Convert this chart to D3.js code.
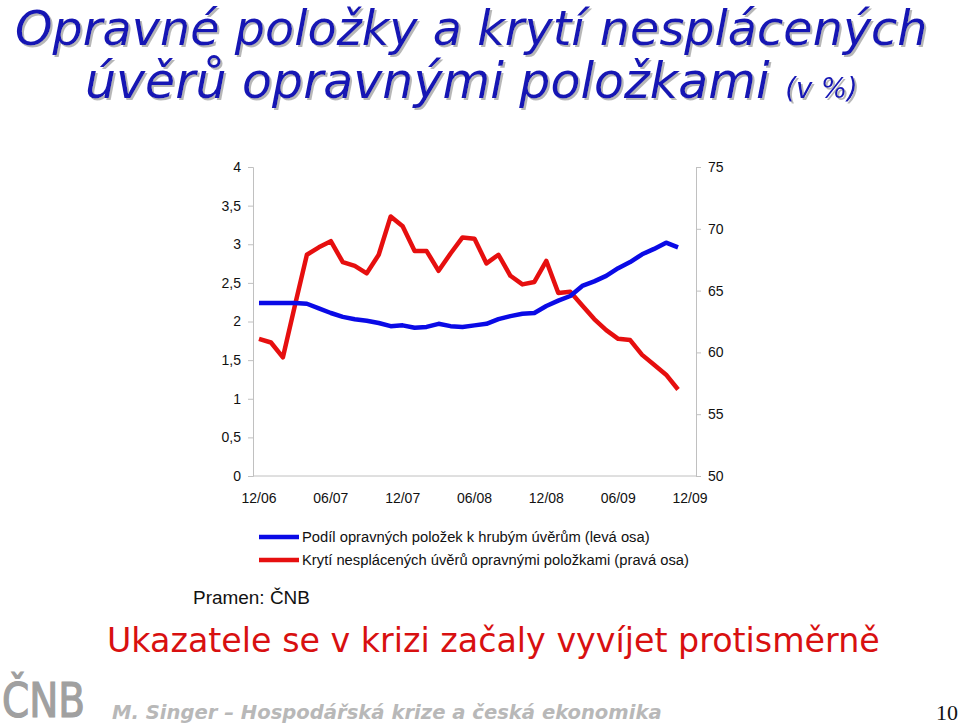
<!DOCTYPE html>
<html><head><meta charset="utf-8">
<script src="https://cdn.jsdelivr.net/npm/d3@7"></script>
<style>html,body{margin:0;padding:0;background:#fff;} svg{display:block;}</style>
</head><body>
<svg id="c" width="960" height="724"></svg>
<script>
// ---- data ----
const months = ["12/06","01/07","02/07","03/07","04/07","05/07","06/07","07/07","08/07","09/07","10/07","11/07",
  "12/07","01/08","02/08","03/08","04/08","05/08","06/08","07/08","08/08","09/08","10/08","11/08",
  "12/08","01/09","02/09","03/09","04/09","05/09","06/09","07/09","08/09","09/09","10/09","11/09","12/09"];
const tickLabels = ["12/06","06/07","12/07","06/08","12/08","06/09","12/09"];
const leftTicks = [0,0.5,1,1.5,2,2.5,3,3.5,4];
const rightTicks = [50,55,60,65,70,75];
// Podíl opravných položek k hrubým úvěrům (levá osa)
const podil = [2.24,2.24,2.24,2.24,2.23,2.17,2.11,2.06,2.03,2.01,1.98,1.94,
  1.95,1.92,1.93,1.97,1.94,1.93,1.95,1.97,2.03,2.07,2.10,2.11,
  2.20,2.27,2.33,2.46,2.52,2.59,2.69,2.77,2.87,2.94,3.02,2.96,null];
// Krytí nesplácených úvěrů opravnými položkami (pravá osa)
const kryti = [61.1,60.8,59.6,63.8,67.9,68.5,69.0,67.3,67.0,66.4,67.9,71.0,
  70.2,68.2,68.2,66.6,68.0,69.3,69.2,67.2,67.9,66.2,65.5,65.7,
  67.4,64.8,64.9,63.8,62.7,61.8,61.1,61.0,59.8,59.0,58.2,57.0,null];
const seriesNames = ["Podíl opravných položek k hrubým úvěrům (levá osa)",
  "Krytí nesplácených úvěrů opravnými položkami (pravá osa)"];

const svg = d3.select("#c");
const FONT = "'Liberation Sans', Arial, sans-serif";
const TFONT = "'DejaVu Sans', Verdana, sans-serif";

function fit(sel, w){
  const n = sel.node();
  const fs = parseFloat(sel.attr("font-size"));
  const cur = n.getComputedTextLength();
  sel.attr("font-size", fs*w/cur);
}

// shadow filter
const defs = svg.append("defs");
defs.append("filter").attr("id","sh").attr("x","-5%").attr("y","-20%").attr("width","110%").attr("height","140%")
  .append("feDropShadow").attr("dx",2).attr("dy",2).attr("stdDeviation",0.4)
  .attr("flood-color","#aaaaaa").attr("flood-opacity",0.85);

// ---- title ----
function titleLine(x,y,parts,w){
  const t = svg.append("text").attr("x",x).attr("y",y)
    .attr("font-family",TFONT).attr("font-style","italic")
    .attr("fill","#1414b4").attr("filter","url(#sh)");
  const sp = parts.map(p=>t.append("tspan").attr("font-size",p.fs).text(p.t));
  const cur = t.node().getComputedTextLength();
  sp.forEach((s,i)=>s.attr("font-size",parts[i].fs*w/cur));
}
titleLine(15,45,[{t:"Opravné položky a krytí nesplácených",fs:41}],913);
titleLine(85,98,[{t:"úvěrů opravnými položkami ",fs:41},{t:"(v %)",fs:23}],773);

// ---- scales ----
const x = d3.scaleBand().domain(months).range([253,696]).padding(0);
const cx = d => x(d) + x.bandwidth()/2;
const yL = d3.scaleLinear().domain([0,4]).range([476,167]);
const yR = d3.scaleLinear().domain([50,75]).range([476,167]);

const axisCol = "#c0c0c0";
const gL = svg.append("g").attr("transform","translate(253,0)")
  .call(d3.axisLeft(yL).tickValues(leftTicks).tickSize(5).tickPadding(7)
    .tickFormat(d=>String(d).replace(".",",")));
const gR = svg.append("g").attr("transform","translate(696,0)")
  .call(d3.axisRight(yR).tickValues(rightTicks).tickSize(5).tickPadding(7));
const gB = svg.append("g").attr("transform","translate(0,476)")
  .call(d3.axisBottom(x).tickValues(tickLabels).tickSize(0).tickPadding(17));
[gL,gR,gB].forEach(g=>{
  g.selectAll("path,line").attr("stroke",axisCol);
  g.selectAll("text").attr("font-family",FONT).attr("font-size",14).attr("fill","#111");
});
gB.select(".domain").attr("d","M253,0H696");

// ---- lines ----
const blue = "#0a0ae6", red = "#e60f0f";
const lineL = d3.line().defined(d=>d.v!=null).x(d=>cx(d.m)).y(d=>yL(d.v));
const lineR = d3.line().defined(d=>d.v!=null).x(d=>cx(d.m)).y(d=>yR(d.v));
svg.append("path").datum(months.map((m,i)=>({m,v:kryti[i]})))
  .attr("d",lineR).attr("fill","none").attr("stroke",red).attr("stroke-width",4.5).attr("stroke-linejoin","round");
svg.append("path").datum(months.map((m,i)=>({m,v:podil[i]})))
  .attr("d",lineL).attr("fill","none").attr("stroke",blue).attr("stroke-width",4.5).attr("stroke-linejoin","round");

// ---- legend ----
[[blue,537],[red,560]].forEach(([c,y],i)=>{
  svg.append("line").attr("x1",259).attr("x2",299).attr("y1",y).attr("y2",y)
    .attr("stroke",c).attr("stroke-width",4.5);
  const t = svg.append("text").attr("x",302).attr("y",y+5).attr("font-family",FONT)
    .attr("font-size",13).attr("fill","#111").text(seriesNames[i]);
  fit(t, i===0?348:387);
});
const pr = svg.append("text").attr("x",193).attr("y",604).attr("font-family",FONT)
  .attr("font-size",16).attr("fill","#111").text("Pramen: ČNB");
fit(pr,117);

// ---- subtitle ----
const st = svg.append("text").attr("x",107).attr("y",652)
  .attr("font-family",TFONT).attr("font-size",32)
  .attr("fill","#d81010").text("Ukazatele se v krizi začaly vyvíjet protisměrně");
fit(st,773);

// ---- footer ----
const logo = svg.append("text").attr("x",2).attr("y",717)
  .attr("font-family","'Liberation Sans Narrow','DejaVu Sans Condensed',sans-serif")
  .attr("font-size",48).attr("fill","#a0a0a0").attr("stroke","#a0a0a0").attr("stroke-width",1.2).text("ČNB");
(function(){const w=logo.node().getComputedTextLength(); logo.attr("transform",`translate(2,0) scale(${83/w},1) translate(-2,0)`);})();
const ft = svg.append("text").attr("x",112).attr("y",719)
  .attr("font-family",TFONT).attr("font-style","italic").attr("font-weight","bold")
  .attr("font-size",20).attr("fill","#b8b8b8").text("M. Singer – Hospodářská krize a česká ekonomika");
fit(ft,550);
svg.append("text").attr("x",958).attr("y",720).attr("text-anchor","end")
  .attr("font-family","'Liberation Serif', 'Times New Roman', serif").attr("font-size",22)
  .attr("fill","#111").text("10");
</script>
</body></html>
